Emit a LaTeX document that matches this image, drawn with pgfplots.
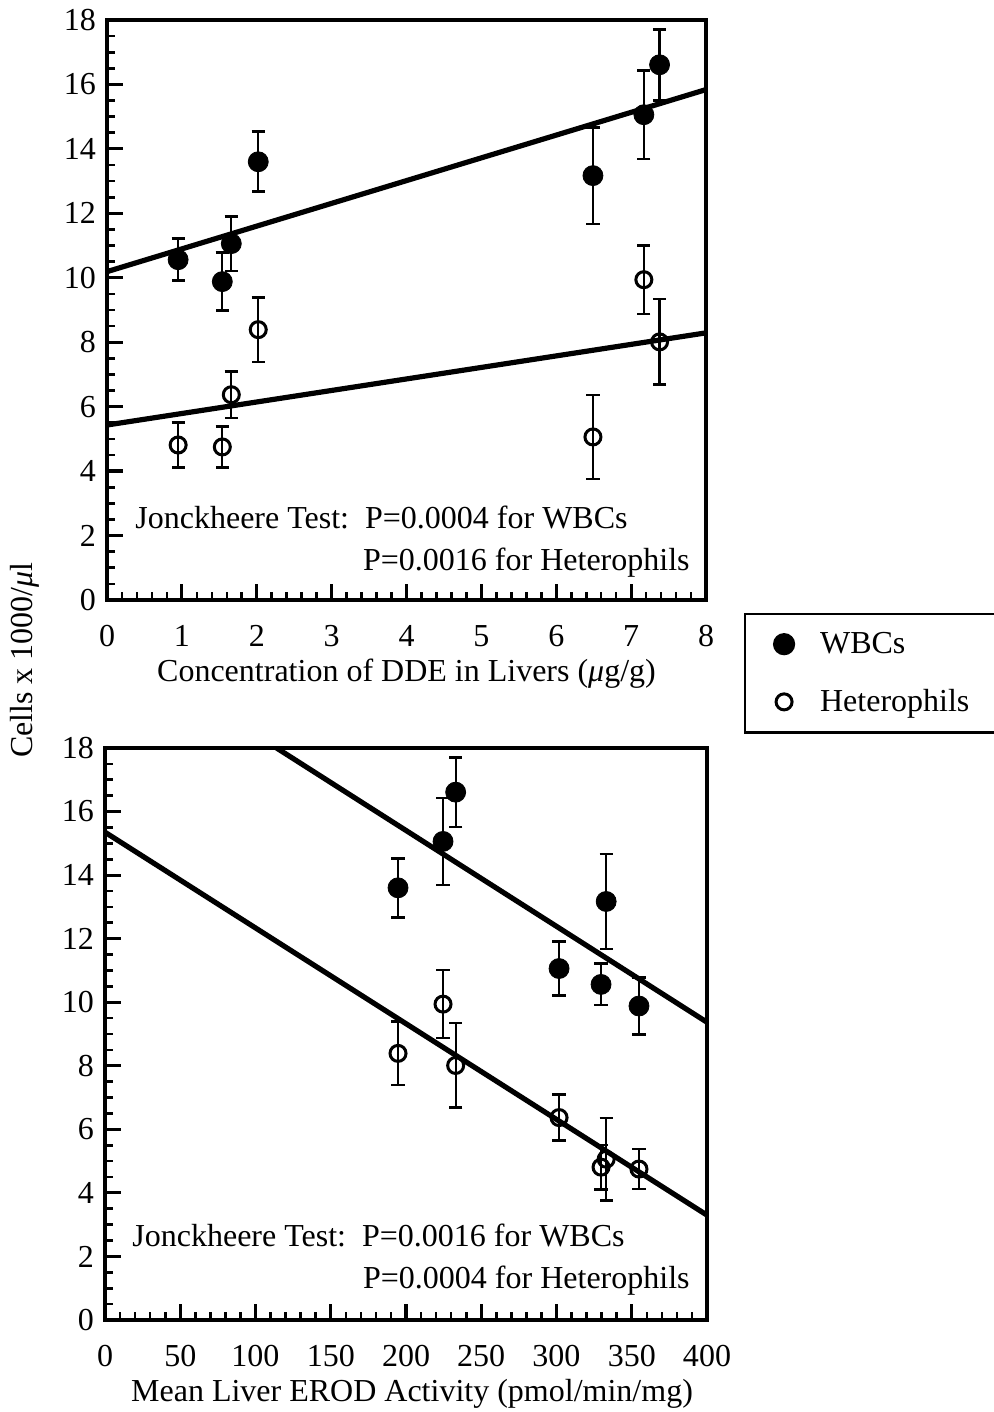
\documentclass[border=0pt]{standalone}
\usepackage{fontspec}
\setmainfont{Liberation Serif}
\usepackage{pgfplots}
\usepackage{pgfplotstable}
\pgfplotsset{compat=1.18}

% Blood cell counts (x1000/ul) with SE, liver DDE (ug/g) and EROD (pmol/min/mg)
\pgfplotstableread{
dde   erod   wbc    ewbc  het   ehet
0.95  329.6  10.56  0.65  4.81  0.70
1.54  354.8   9.88  0.90  4.75  0.63
1.66  301.7  11.06  0.85  6.37  0.72
2.02  194.7  13.60  0.93  8.39  1.00
6.49  333.0  13.17  1.50  5.06  1.30
7.17  224.6  15.06  1.37  9.94  1.07
7.38  233.0  16.61  1.10  8.01  1.33
}\cells

\newcommand{\figfont}{\fontsize{16}{19}\selectfont}

\pgfplotsset{
  panel/.style={
    scale only axis,
    axis line style={line width=2.4pt},
    tick pos=left, tick align=inside,
    major tick length=8pt, minor tick length=4pt,
    major tick style={line width=1.6pt, black},
    minor tick style={line width=1.3pt, black},
    ymin=0, ymax=18, ytick={0,2,...,18}, minor y tick num=3,
    font=\figfont,
    /pgf/number format/assume math mode=true,
    xticklabel style={anchor=center, yshift=-18pt},
    yticklabel style={xshift=-2pt},
    every axis x label/.style={at={(axis description cs:0.5,0)}, anchor=center, yshift=-37pt},
  },
  wbcs/.style={only marks, mark=*, mark size=5pt, black,
    error bars/.cd, y dir=both, y explicit,
    error bar style={line width=1.1pt},
    error mark options={rotate=90, mark size=3.3pt, line width=1.3pt}},
  hets/.style={only marks, mark=o, mark size=4pt, black,
    mark options={fill=white, line width=1.5pt},
    error bars/.cd, y dir=both, y explicit,
    error bar style={line width=1.1pt},
    error mark options={rotate=90, mark size=3.3pt, line width=1.3pt}},
  fit/.style={no marks, line width=2.6pt, black, forget plot},
}

\begin{document}
\begin{tikzpicture}
\path[use as bounding box] (0,0) rectangle (496.5pt,706pt);

% DDE panel
\begin{axis}[panel, at={(53.5pt,406pt)}, anchor=south west,
  width=299.5pt, height=290pt,
  xmin=0, xmax=8, xtick={0,...,8}, minor x tick num=4,
  xlabel={Concentration of DDE in Livers (\textit{μ}g/g)},
  legend style={at={(axis description cs:1.0634,-0.0224)}, anchor=north west,
    draw=black, line width=1.1pt, inner xsep=14.5pt, inner ysep=7pt,
    row sep=12.5pt, font=\figfont},
  legend cell align=left]
\addplot[wbcs] table[x=dde, y=wbc, y error=ewbc] {\cells};
\addlegendentry{\hspace{11pt}WBCs}
\addplot[hets] table[x=dde, y=het, y error=ehet] {\cells};
\addlegendentry{\hspace{11pt}Heterophils\hspace*{30pt}}
\addplot[fit] coordinates {(0,10.19) (8,15.84)};
\addplot[fit] coordinates {(0,5.43) (8,8.29)};
\end{axis}

% EROD panel
\begin{axis}[panel, at={(52.5pt,46pt)}, anchor=south west,
  width=301pt, height=286pt,
  xmin=0, xmax=400, xtick={0,50,...,400}, minor x tick num=4,
  xlabel={Mean Liver EROD Activity (pmol/min/mg)},
  every axis x label/.append style={xshift=3pt}]
\addplot[wbcs] table[x=erod, y=wbc, y error=ewbc] {\cells};
\addplot[hets] table[x=erod, y=het, y error=ehet] {\cells};
\addplot[fit] coordinates {(0,21.44) (400,9.37)};
\addplot[fit] coordinates {(0,15.35) (400,3.30)};
\end{axis}

\begin{scope}[font=\figfont]
\node[rotate=90] at (12.5pt,376pt) {Cells x 1000/\textit{μ}l};
\node[anchor=base west, inner sep=0pt] at (67.5pt,441.5pt) {Jonckheere Test:\ \ P=0.0004 for WBCs};
\node[anchor=base east, inner sep=0pt] at (345pt,420.5pt) {P=0.0016 for Heterophils};
\node[anchor=base west, inner sep=0pt] at (66pt,82.5pt) {Jonckheere Test:\ \ P=0.0016 for WBCs};
\node[anchor=base east, inner sep=0pt] at (345pt,61.5pt) {P=0.0004 for Heterophils};
\end{scope}
\end{tikzpicture}
\end{document}
